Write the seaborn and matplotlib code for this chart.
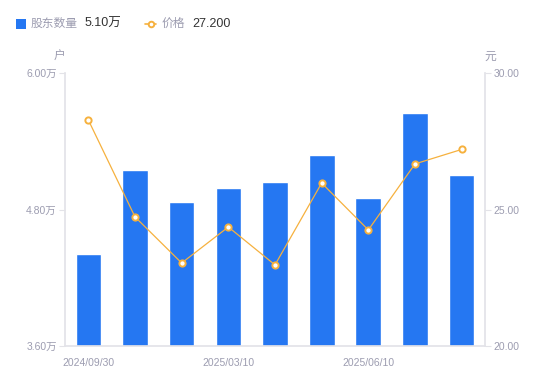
import matplotlib
matplotlib.use("Agg")
import matplotlib.pyplot as plt
import seaborn as sns
import pandas as pd
from matplotlib.lines import Line2D
from matplotlib.patches import Rectangle

dates = ["2024/09/30", "2024/12/31", "2025/02/28", "2025/03/10", "2025/03/31",
         "2025/04/30", "2025/06/10", "2025/06/30", "2025/08/20"]
holders = [4.41, 5.15, 4.87, 4.99, 5.04, 5.28, 4.90, 5.65, 5.10]   # 万户
price = [28.28, 24.73, 23.04, 24.36, 22.97, 25.97, 24.25, 26.67, 27.20]
shown_dates = ["2024/09/30", "2025/03/10", "2025/06/10"]

sns.set_theme(style="white")
plt.rcParams['font.family'] = ['Liberation Sans', 'Noto Sans CJK SC', 'DejaVu Sans']

blue = "#2577F2"
orange = "#F6B13E"
gray = "#9C9CB0"
axc = "#E3E3E8"

df = pd.DataFrame({"date": dates, "holders": holders, "price": price, "pos": range(len(dates))})

fig = plt.figure(figsize=(5.5, 3.81), dpi=100)
ax = fig.add_axes([65 / 550, 35 / 381, 420 / 550, 273 / 381])

sns.barplot(data=df, x="date", y="holders", color=blue, width=0.55, saturation=1, ax=ax)
ax.set_ylim(3.6, 6.0)
ax.set_xlim(-0.5, len(dates) - 0.5)
ax.set_yticks([3.6, 4.8, 6.0])
ax.set_yticklabels([f"{v:.2f}万" for v in [3.6, 4.8, 6.0]])
ax.set_xticks([dates.index(d) for d in shown_dates])
ax.set_xticklabels(shown_dates)
ax.set_xlabel("")
ax.set_ylabel("")

ax2 = ax.twinx()
sns.lineplot(data=df, x="pos", y="price", color=orange, lw=0.9, marker="o", markersize=4.5,
             markerfacecolor="white", markeredgecolor=orange, markeredgewidth=1.4, ax=ax2)
ax2.set_ylim(20, 30)
ax2.set_yticks([20, 25, 30])
ax2.set_yticklabels([f"{v:.2f}" for v in [20, 25, 30]])
ax2.set_xlabel("")
ax2.set_ylabel("")

for a in (ax, ax2):
    for s in a.spines.values():
        s.set_visible(False)
ax.spines["left"].set_visible(True)
ax.spines["left"].set_color(axc)
ax.spines["bottom"].set_visible(True)
ax.spines["bottom"].set_color(axc)
ax2.spines["right"].set_visible(True)
ax2.spines["right"].set_color(axc)

ax.tick_params(axis="y", which="both", left=True, length=4, width=0.8, color=axc,
               labelsize=7.5, labelcolor=gray, pad=2)
ax.tick_params(axis="x", bottom=False, labelsize=7.5, labelcolor=gray, pad=3)
ax2.tick_params(axis="y", right=True, length=4, width=0.8, color=axc,
                labelsize=7.5, labelcolor=gray, pad=2)

# unit labels
fig.text(59 / 550, 1 - 57 / 381, "户", color=gray, fontsize=8.5, ha="center", va="center")
fig.text(490 / 550, 1 - 57 / 381, "元", color=gray, fontsize=8.5, ha="center", va="center")

# legend row
ly = 1 - 24 / 381
fig.add_artist(Rectangle((16 / 550, ly - 5 / 381), 10 / 550, 10 / 381, transform=fig.transFigure,
                         color=blue, lw=0))
fig.text(31 / 550, ly, "股东数量", color=gray, fontsize=8.5, va="center")
fig.text(85 / 550, ly, "5.10万", color="#333333", fontsize=9, va="center")
fig.add_artist(Line2D([145 / 550, 156 / 550], [ly, ly], transform=fig.transFigure, color=orange,
                      lw=1.2))
fig.add_artist(Line2D([150.5 / 550], [ly], transform=fig.transFigure, color=orange,
                      marker="o", markersize=4, markerfacecolor="white", markeredgewidth=1.4))
fig.text(162 / 550, ly, "价格", color=gray, fontsize=8.5, va="center")
fig.text(192 / 550, ly, "27.200", color="#333333", fontsize=9, va="center")

fig.savefig("out.png", dpi=100)
